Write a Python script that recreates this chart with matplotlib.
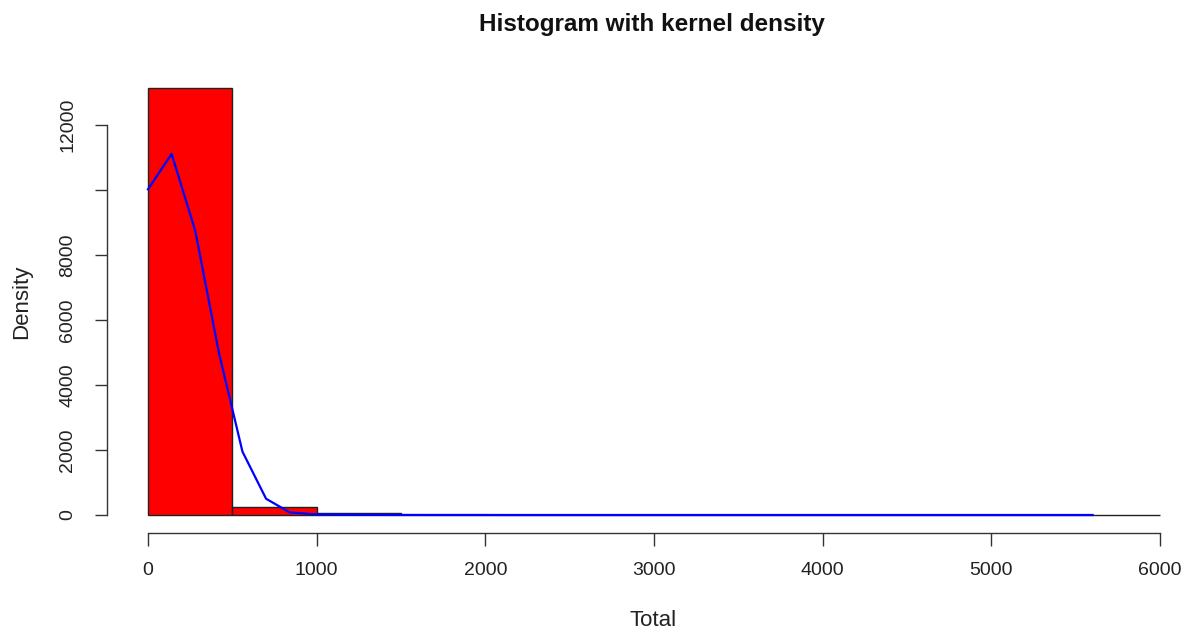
import matplotlib
matplotlib.use("Agg")
import matplotlib.pyplot as plt
import numpy as np

plt.rcParams['font.family'] = ['Liberation Sans', 'DejaVu Sans']

# Histogram bins (left edges) and bar heights (density-scaled, as shown)
bin_edges = [0, 500, 1000, 1500, 2000, 2500, 3000, 3500, 4000, 4500, 5000, 5500, 6000]
bar_heights = [13140, 240, 75, 0, 0, 0, 0, 0, 0, 0, 0, 0]

# Kernel density curve points
kde_x = [0, 140, 280, 420, 560, 700, 840, 980, 1120, 1260, 1400, 1540, 1680, 1820,
         1960, 2100, 2240, 2380, 2520, 2660, 2800, 2940, 3080, 3220, 3360, 3500,
         3640, 3780, 3920, 4060, 4200, 4340, 4480, 4620, 4760, 4900, 5040, 5180,
         5320, 5460, 5600]
kde_y = [10020, 11110, 8750, 5000, 1950, 500, 80, 25, 10, 5, 3, 2, 1, 1,
         1, 0, 0, 0, 0, 0, 0, 0, 0, 0, 0, 0,
         0, 0, 0, 0, 0, 0, 0, 0, 0, 0, 0, 0,
         0, 0, 0]

x_ticks = [0, 1000, 2000, 3000, 4000, 5000, 6000]
y_ticks = [0, 2000, 4000, 6000, 8000, 10000, 12000]
y_tick_labels = ['0', '2000', '4000', '6000', '8000', '', '12000']

W, H = 1189, 633
fig = plt.figure(figsize=(W / 100, H / 100), dpi=100)
ax = fig.add_axes([107 / W, (H - 533) / H, (W - 107) / W, 473 / H])
ax.set_xlim(-243, 6171)
ax.set_ylim(-554, 14000)

widths = np.diff(bin_edges)
ax.bar(bin_edges[:-1], bar_heights, width=widths, align='edge', color='red',
       edgecolor='#222222', linewidth=1.0, zorder=2)
ax.plot(kde_x, kde_y, color='blue', linewidth=1.6, zorder=3)

for s in ['top', 'right']:
    ax.spines[s].set_visible(False)
ax.spines['left'].set_bounds(0, 12000)
ax.spines['bottom'].set_bounds(0, 6000)
for s in ['left', 'bottom']:
    ax.spines[s].set_color('#333333')
    ax.spines[s].set_linewidth(1.0)

ax.set_xticks(x_ticks)
ax.set_xticklabels([str(v) for v in x_ticks])
ax.set_yticks(y_ticks)
ax.set_yticklabels(y_tick_labels, rotation=90, va='center')
ax.tick_params(axis='both', direction='out', length=9, width=1.0, color='#333333',
               labelsize=14, labelcolor='#222222')
ax.tick_params(axis='x', pad=12)
ax.tick_params(axis='y', pad=13)

fig.text(652 / W, 1 - 24 / H, 'Histogram with kernel density', ha='center', va='center',
         fontsize=17.5, fontweight='bold', color='#111111')
fig.text(653 / W, 1 - 620 / H, 'Total', ha='center', va='center', fontsize=16, color='#222222')
fig.text(22 / W, 1 - 302 / H, 'Density', ha='center', va='center', rotation=90,
         fontsize=16, color='#222222')

fig.savefig('out.png', dpi=100)
